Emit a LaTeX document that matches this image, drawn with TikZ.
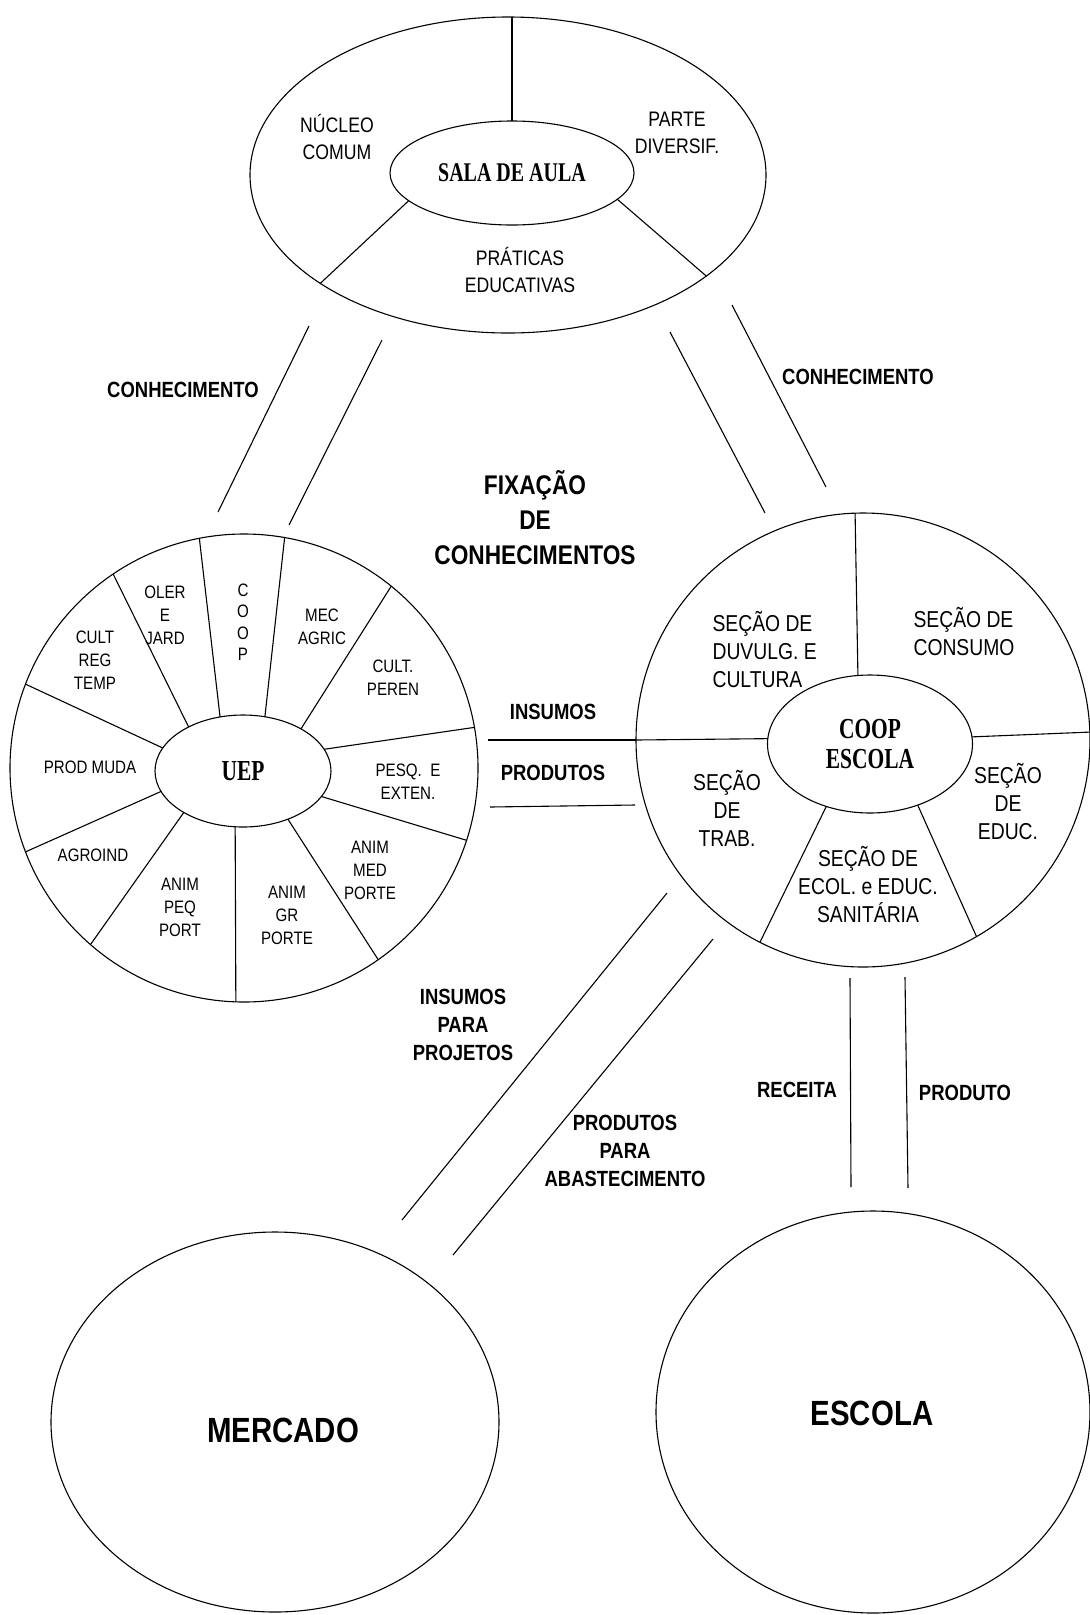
\documentclass[tikz,border=0pt]{standalone}
\usepackage{fontspec}
\newfontfamily\lsans[FakeStretch=0.84]{Liberation Sans}
\newfontfamily\lserif[FakeStretch=0.74]{Liberation Serif}
\usetikzlibrary{shapes.geometric}

\begin{document}
\begin{tikzpicture}[x=1pt, y=-1pt, line width=1.1pt,
    ring/.style = {draw, ellipse, inner sep=0pt, outer sep=0pt},
    hub/.style = {draw, ellipse, inner sep=0pt, outer sep=0pt, align=center, font=\lserif\bfseries\fontsize{27}{30}\selectfont},
    sect/.style = {align=center, inner sep=0pt, font=\lsans\fontsize{18}{23}\selectfont},
    sectb/.style = {align=center, inner sep=0pt, font=\lsans\fontsize{23}{28}\selectfont},
    flow/.style = {align=center, inner sep=0pt, font=\lsans\bfseries\fontsize{22}{28}\selectfont},
    big/.style = {align=center, inner sep=0pt, font=\lsans\bfseries\fontsize{35}{40}\selectfont}]
    \useasboundingbox (0,0) rectangle (1090,1615);

    % sala de aula
    \node[ring, minimum width=516pt, minimum height=316pt] (salaring) at (508,175) {};
    \node[hub, minimum width=244pt, minimum height=104pt] (sala) at (512,173) {SALA DE AULA};
    \draw (sala.north) -- (sala.north |- salaring.north);
    \foreach \a/\b in {195/210, -14/-27}
        \draw (sala.\a) -- (salaring.\b);
    \node[sect, font=\lsans\fontsize{21}{27}\selectfont] (nucleo) at (337,137) {NÚCLEO\\COMUM};
    \node[sect, font=\lsans\fontsize{21}{27}\selectfont] (parte) at (677,133) {PARTE\\DIVERSIF.};
    \node[sect, font=\lsans\fontsize{21}{27}\selectfont] (praticas) at (520,270) {PRÁTICAS\\EDUCATIVAS};

    % UEP
    \node[ring, minimum width=468pt, minimum height=468pt] (uepring) at (244,768) {};
    \node[hub, minimum width=176pt, minimum height=112pt, font=\lserif\bfseries\fontsize{29}{30}\selectfont] (uep) at (243,771) {UEP};
    \foreach \a/\b in {141/124, 113/101, 68/80, 36/51, 15/10, -18/-18, -47/-55, -98/-92, -145/-131, -166/-159, 164/159}
        \draw (uep.\a) -- (uepring.\b);
    \node[sect] (cultreg) at (95,660) {CULT\\REG\\TEMP};
    \node[sect] (oler) at (165,615) {OLER\\E\\JARD};
    \node[sect, font=\lsans\fontsize{18}{21.5}\selectfont] (coopv) at (243,622) {C\\O\\O\\P};
    \node[sect] (mec) at (322,627) {MEC\\AGRIC};
    \node[sect] (peren) at (393,678) {CULT.\\PEREN};
    \node[sect] (pesq) at (408,782) {PESQ.\ \ E\\EXTEN.};
    \node[sect] (animmed) at (370,870) {ANIM\\MED\\PORTE};
    \node[sect] (animgr) at (287,915) {ANIM\\GR\\PORTE};
    \node[sect] (animpeq) at (180,907) {ANIM\\PEQ\\PORT};
    \node[sect] (agroind) at (93,855) {AGROIND};
    \node[sect] (prodmuda) at (90,767) {PROD MUDA};

    % coop escola
    \node[ring, minimum width=454pt, minimum height=454pt] (coopring) at (863,740) {};
    \node[hub, minimum width=205pt, minimum height=138pt, font=\lserif\bfseries\fontsize{29}{30}\selectfont] (coop) at (870,744) {COOP\\ESCOLA};
    \foreach \a/\b in {100/92, 177/180, 4/2, -125/-117, -52/-60}
        \draw (coop.\a) -- (coopring.\b);
    \node[sectb, align=left, anchor=west] (divulg) at (712,650) {SEÇÃO DE\\DUVULG. E\\CULTURA};
    \node[sectb, align=left, anchor=west] (consumo) at (913,632) {SEÇÃO DE\\CONSUMO};
    \node[sectb] (trab) at (727,808) {SEÇÃO\\DE\\TRAB.};
    \node[sectb] (educ) at (1008,802) {SEÇÃO\\DE\\EDUC.};
    \node[sectb] (sanit) at (868,885) {SEÇÃO DE\\ECOL. e EDUC.\\SANITÁRIA};

    % mercado e escola
    \node[ring, minimum width=448pt, minimum height=380pt] (mercring) at (275,1422) {};
    \node[big] (mercado) at (283,1430) {MERCADO};
    \node[ring, minimum width=434pt, minimum height=402pt] (escring) at (873,1412) {};
    \node[big] (escola) at (872,1413) {ESCOLA};

    % ligacoes
    \coordinate (kla) at (309,326); \coordinate (klb) at (218,512);
    \coordinate (kma) at (382,340); \coordinate (kmb) at (289,525);
    \coordinate (kra) at (670,332); \coordinate (krb) at (765,513);
    \coordinate (ksa) at (732,305); \coordinate (ksb) at (826,487);
    \coordinate (insa) at (488,740);
    \coordinate (proa) at (490,807); \coordinate (prob) at (635,805);
    \coordinate (mka) at (667,893); \coordinate (mkb) at (402,1220);
    \coordinate (mla) at (713,939); \coordinate (mlb) at (453,1255);
    \coordinate (esa) at (850,978); \coordinate (esb) at (851,1187);
    \coordinate (eta) at (905,977); \coordinate (etb) at (908,1188);

    \draw (kla) -- (klb);
    \draw (kma) -- (kmb);
    \draw (kra) -- (krb);
    \draw (ksa) -- (ksb);
    \draw (insa) -- (coopring.west);
    \draw (proa) -- (prob);
    \draw (mka) -- (mkb);
    \draw (mla) -- (mlb);
    \draw (esa) -- (esb);
    \draw (eta) -- (etb);

    \node[flow] (conhl) at (183,390) {CONHECIMENTO};
    \node[flow] (conhr) at (858,377) {CONHECIMENTO};
    \node[flow, font=\lsans\bfseries\fontsize{27}{35}\selectfont] (fix) at (535,518) {FIXAÇÃO\\DE\\CONHECIMENTOS};
    \node[flow] (insumos) at (553,712) {INSUMOS};
    \node[flow] (produtos) at (553,773) {PRODUTOS};
    \node[flow] (insproj) at (463,1025) {INSUMOS\\PARA\\PROJETOS};
    \node[flow] (prodabast) at (625,1151) {PRODUTOS\\PARA\\ABASTECIMENTO};
    \node[flow] (receita) at (797,1090) {RECEITA};
    \node[flow] (produto) at (965,1093) {PRODUTO};
\end{tikzpicture}
\end{document}
